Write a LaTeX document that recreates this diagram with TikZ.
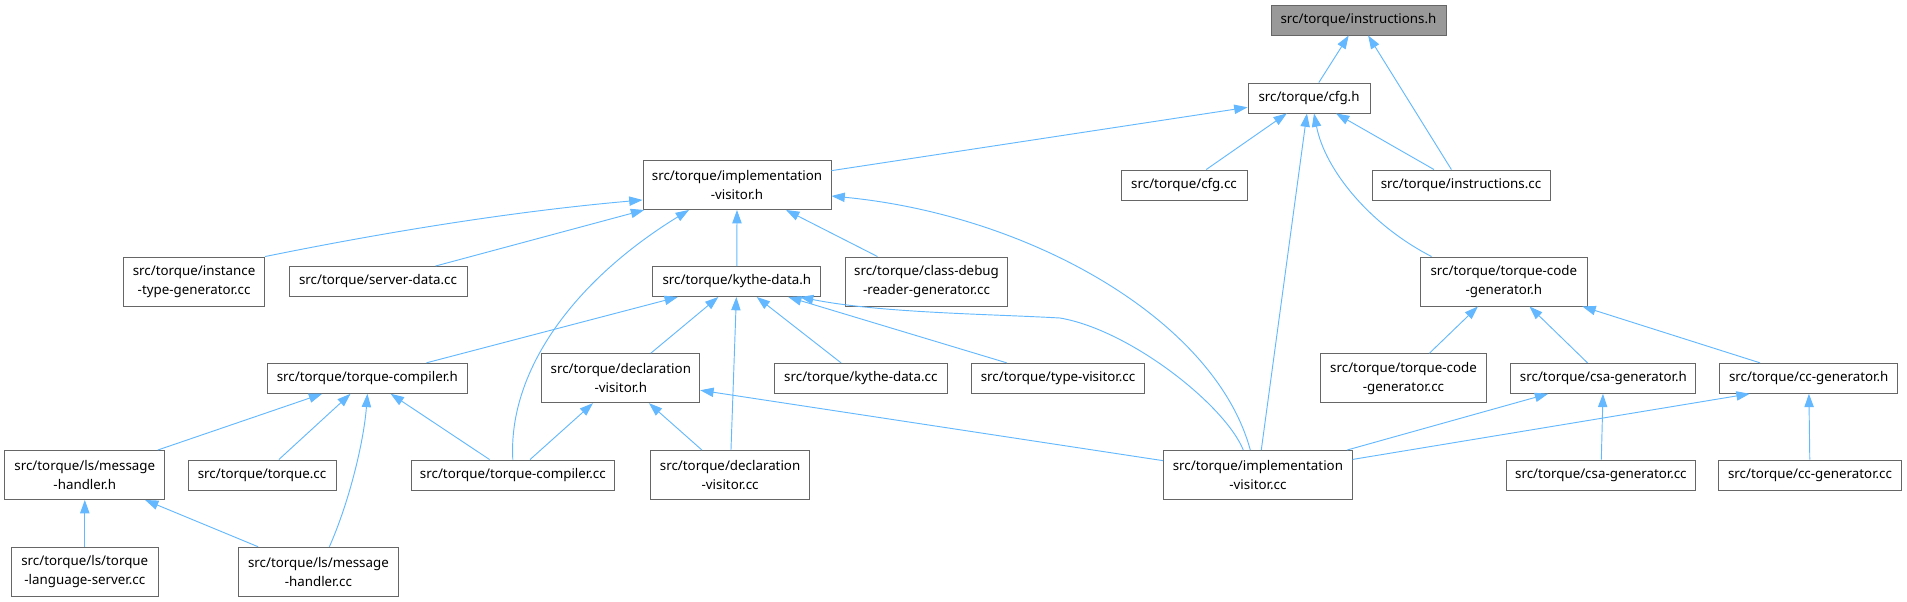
\documentclass[tikz,border=0pt]{standalone}
\usepackage{fontspec}
\setmainfont{Noto Sans}
\usepackage{xcolor}
\usepackage{tikz}
\usetikzlibrary{arrows.meta,calc}
\definecolor{edgeblue}{HTML}{63B8FF}
\definecolor{boxgray}{HTML}{666666}
\definecolor{rootgray}{HTML}{999999}

\begin{document}
\begin{tikzpicture}[x=0.75pt, y=-0.75pt,
    block/.style={rectangle, draw=boxgray, fill=white, line width=0.7pt, inner sep=2pt, align=center, minimum height=22.5pt, font=\fontsize{10}{14}\selectfont},
    block_two/.style={block, minimum height=36.75pt},
    block_root/.style={block, fill=rootgray},
    line/.style={draw=edgeblue, line width=0.7pt, -{Triangle[length=10pt, width=7pt]}}]

    \useasboundingbox (0,0) rectangle (1907,601);

    \node [block_root, minimum width=131.25pt] (instr_h) at (1358.5,20) {src/torque/instructions.h};
    \node [block, minimum width=91.5pt] (cfg_h) at (1309,98) {src/torque/cfg.h};
    \node [block, minimum width=94.5pt] (cfg_cc) at (1184,185) {src/torque/cfg.cc};
    \node [block, minimum width=133.5pt] (instr_cc) at (1461,185) {src/torque/instructions.cc};
    \node [block_two, minimum width=141pt] (impl_vis_h) at (737,185) {src/torque/implementation\\-visitor.h};
    \node [block_two, minimum width=124.9pt] (tcg_h) at (1503.8,281.5) {src/torque/torque-code\\-generator.h};
    \node [block_two, minimum width=105.75pt] (inst_gen_cc) at (194.1,281.5) {src/torque/instance\\-type-generator.cc};
    \node [block, minimum width=133.5pt] (server_cc) at (378,281.5) {src/torque/server-data.cc};
    \node [block, minimum width=126pt] (kythe_h) at (736.9,281.5) {src/torque/kythe-data.h};
    \node [block_two, minimum width=121.5pt] (debug_cc) at (926.5,281.5) {src/torque/class-debug\\-reader-generator.cc};
    \node [block, minimum width=149.6pt] (compiler_h) at (367.4,378.3) {src/torque/torque-compiler.h};
    \node [block_two, minimum width=118.5pt] (decl_h) at (620.8,378.2) {src/torque/declaration\\-visitor.h};
    \node [block, minimum width=129.5pt] (kythe_cc) at (860.8,378.3) {src/torque/kythe-data.cc};
    \node [block, minimum width=130pt] (type_cc) at (1058,378.3) {src/torque/type-visitor.cc};
    \node [block_two, minimum width=124.5pt] (tcg_cc) at (1403.5,378.2) {src/torque/torque-code\\-generator.cc};
    \node [block, minimum width=138.75pt] (csa_h) at (1603.4,378.3) {src/torque/csa-generator.h};
    \node [block, minimum width=133.5pt] (cc_h) at (1808.7,378.3) {src/torque/cc-generator.h};
    \node [block_two, minimum width=120pt] (msg_h) at (84.8,475) {src/torque/ls/message\\-handler.h};
    \node [block, minimum width=111pt] (torque_cc) at (262,475) {src/torque/torque.cc};
    \node [block, minimum width=152pt] (compiler_cc) at (512.8,475) {src/torque/torque-compiler.cc};
    \node [block_two, minimum width=119pt] (decl_cc) at (730.1,475) {src/torque/declaration\\-visitor.cc};
    \node [block_two, minimum width=141.5pt] (impl_vis_cc) at (1257.9,475) {src/torque/implementation\\-visitor.cc};
    \node [block, minimum width=142.4pt] (csa_cc) at (1600.9,475) {src/torque/csa-generator.cc};
    \node [block, minimum width=137.25pt] (cc_cc) at (1810,475) {src/torque/cc-generator.cc};
    \node [block_two, minimum width=109.8pt] (server_ls_cc) at (84.8,571.7) {src/torque/ls/torque\\-language-server.cc};
    \node [block_two, minimum width=119.4pt] (msg_cc) at (318.4,571.7) {src/torque/ls/message\\-handler.cc};

    \path [line] (cfg_h) -- (instr_h);
    \path [line] (instr_cc) -- (instr_h);
    \path [line] (impl_vis_h) -- (cfg_h);
    \path [line] (cfg_cc) -- (cfg_h);
    \path [line] (instr_cc) -- (cfg_h);
    \path [line] (impl_vis_cc) -- (cfg_h);
    \path [line] ($(tcg_h.north west)+(11.5,0)$) .. controls (1370,225) and (1325,170) .. ($(cfg_h.south)+(5,0)$);
    \path [line] (inst_gen_cc.north east) .. controls (390.7,231) and (516.8,211) .. ($(impl_vis_h.south west)+(0,-10)$);
    \path [line] (server_cc) -- (impl_vis_h);
    \path [line] (compiler_cc.north) .. controls (508,370) and (575,280) .. ($(impl_vis_h.south)+(-48,0)$);
    \path [line] (kythe_h) -- (impl_vis_h);
    \path [line] (debug_cc) -- (impl_vis_h);
    \path [line] ($(impl_vis_cc.north)+(-7.6,0)$) .. controls (1215,320) and (1030,215) .. ($(impl_vis_h.east)+(0,11)$);
    \path [line] (compiler_h) -- (kythe_h);
    \path [line] (decl_h) -- (kythe_h);
    \path [line] (decl_cc) -- (kythe_h);
    \path [line] (kythe_cc) -- (kythe_h);
    \path [line] (type_cc) -- (kythe_h);
    \path [line] ($(impl_vis_cc.north)+(-14.6,0)$) .. controls (1225,405) and (1130,330) .. (1060,318) .. controls (990,314) and (880,313) .. ($(kythe_h.south)+(63,0)$);
    \path [line] (msg_h) -- (compiler_h);
    \path [line] (torque_cc) -- (compiler_h);
    \path [line] ($(msg_cc.north)+(11,0)$) .. controls (350,500) and (364,440) .. (compiler_h.south);
    \path [line] (compiler_cc) -- (compiler_h);
    \path [line] (compiler_cc) -- (decl_h);
    \path [line] (decl_cc) -- (decl_h);
    \path [line] (impl_vis_cc) -- (decl_h);
    \path [line] (server_ls_cc) -- (msg_h);
    \path [line] (msg_cc) -- (msg_h);
    \path [line] (tcg_cc) -- (tcg_h);
    \path [line] (csa_h) -- (tcg_h);
    \path [line] (cc_h) -- (tcg_h);
    \path [line] (impl_vis_cc) -- (csa_h);
    \path [line] (impl_vis_cc) -- ($(cc_h.south)+(-59,0)$);
    \path [line] (csa_cc) -- (csa_h);
    \path [line] (cc_cc) -- (cc_h);
\end{tikzpicture}
\end{document}
